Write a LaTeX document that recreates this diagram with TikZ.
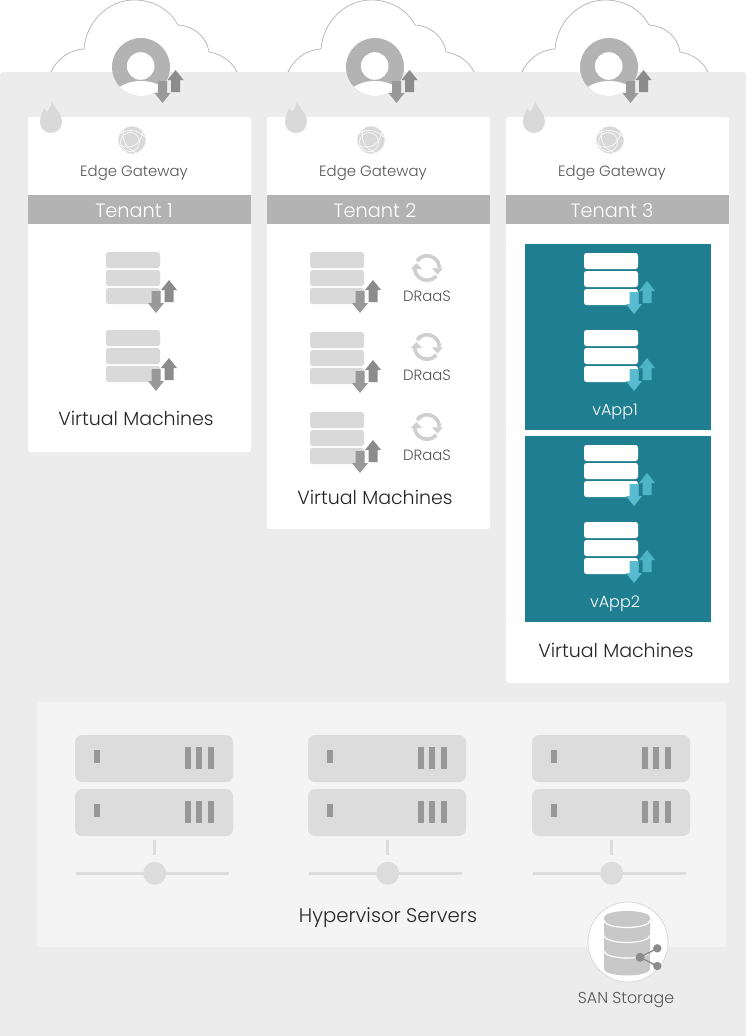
\documentclass[tikz,border=0pt]{standalone}
\usepackage{fontspec}
\setmainfont{Poppins Light}
\definecolor{panelgrey}{HTML}{ECECEC}
\definecolor{lowpanel}{HTML}{F4F4F4}
\definecolor{bannergrey}{HTML}{B3B3B3}
\definecolor{rowgrey}{HTML}{D9D9D9}
\definecolor{srvgrey}{HTML}{DCDCDC}
\definecolor{cylgrey}{HTML}{C8C8C8}
\definecolor{loopgrey}{HTML}{CFCFCF}
\definecolor{darkgrey}{HTML}{8C8C8C}
\definecolor{dngrey}{HTML}{999999}
\definecolor{teal}{HTML}{1F7F91}
\definecolor{upteal}{HTML}{4FB3C6}
\definecolor{dnteal}{HTML}{58BBCF}
\definecolor{txtgrey}{HTML}{555555}
\tikzset{
  card/.style={fill=white,rounded corners=2.5pt},
  labelsm/.style={text=txtgrey,font=\fontsize{14.9}{16}\selectfont,inner sep=0pt,anchor=center},
  labelsan/.style={text=txtgrey,font=\fontsize{15.8}{17}\selectfont,inner sep=0pt,anchor=center},
  labelbig/.style={text=black!85,font=\fontsize{19}{20}\selectfont,inner sep=0pt,anchor=center},
  labelhv/.style={text=black!85,font=\fontsize{19.7}{20}\selectfont,inner sep=0pt,anchor=center},
  bannertext/.style={text=white,font=\fontsize{19.3}{22}\selectfont,inner sep=0pt,anchor=center},
  vapptext/.style={text=white,font=\fontsize{16}{17}\selectfont,inner sep=0pt,anchor=center},
  rowbox/.style={rounded corners=2.5pt},
  srvbox/.style={fill=srvgrey,rounded corners=7pt},
  mark bar/.style={fill=darkgrey!90},
}
% arrow pair; origin = stack origin
\newcommand{\updown}[2]{%
  \fill[#1] (63,28) -- (71,38) -- (67.5,38) -- (67.5,50) -- (58.5,50) -- (58.5,38) -- (55,38) -- cycle;
  \fill[#2] (50,61) -- (58,51) -- (54.5,51) -- (54.5,39) -- (45.5,39) -- (45.5,51) -- (42,51) -- cycle;
}
\newcommand{\vmstack}[5]{%
  \begin{scope}[shift={(#1,#2)}]
    \fill[#3,rowbox] (0,0) rectangle (54,16);
    \fill[#3,rowbox] (0,18) rectangle (54,34);
    \fill[#3,rowbox] (0,36) rectangle (54,52);
    \updown{#4}{#5}
  \end{scope}}
\newcommand{\cloudshape}[1]{%
  \begin{scope}[shift={(#1,0)}]
    \draw[bannergrey,line width=0.7pt,fill=white]
      (50,74) .. controls (56,60) and (68,50) .. (84,49)
      .. controls (86,22) and (108,0) .. (134,0)
      .. controls (154,0) and (170,10) .. (178,25)
      .. controls (194,26) and (207,37) .. (209,52)
      .. controls (222,54) and (233,62) .. (238,74);
  \end{scope}}
\newcommand{\person}[1]{%
  \begin{scope}[shift={(#1,0)}]
    \fill[bannergrey] (141,67) circle (29);
    \begin{scope}
      \clip (141,67) circle (29);
      \fill[white] (141,101) ellipse (30 and 20);
    \end{scope}
    \fill[white] (140.7,66) circle (13.8);
    \begin{scope}[shift={(112.5,42)}]\updown{darkgrey}{dngrey}\end{scope}
  \end{scope}}
\newcommand{\flame}[1]{%
  \fill[rowgrey,shift={(#1,0)}] (51,133) .. controls (44.5,133) and (40,128) .. (40,122)
    .. controls (40,116) and (43,112) .. (44,108)
    .. controls (45.5,110) and (46.5,111) .. (47,112)
    .. controls (50,109) and (51.5,105) .. (52,101)
    .. controls (54,108) and (62,113) .. (62,122)
    .. controls (62,128) and (57,133) .. (51,133) -- cycle;}
\newcommand{\globe}[1]{%
  \begin{scope}[shift={(#1,140)}]
    \fill[rowgrey] (0,0) circle (14);
    \draw[white,line width=0.6pt] (0,0) circle (14);
    \draw[white,line width=0.6pt] (-2,2) circle (9.5);
    \draw[white,line width=0.6pt] (-12,-6) .. controls (-4,-12) and (6,-10) .. (13,-3);
    \draw[white,line width=0.6pt] (-8,-11) .. controls (-11,0) and (-6,9) .. (5,13);
    \draw[white,line width=0.6pt] (-13,5) .. controls (-2,10) and (8,6) .. (11,-8);
  \end{scope}}
\newcommand{\draas}[1]{%
  \begin{scope}[shift={(427,#1)}]
    \draw[loopgrey,line width=3.6pt] (215:12.3) arc (215:360:12.3);
    \draw[loopgrey,line width=3.6pt] (40:12.3) arc (40:180:12.3);
    \fill[loopgrey] (5,0.3) -- (16,0.3) -- (10.5,6.5) -- cycle;
    \fill[loopgrey] (-5,1) -- (-16,1) -- (-10.5,-5) -- cycle;
  \end{scope}}
\newcommand{\server}[1]{%
  \begin{scope}[shift={(#1,0)}]
    \foreach \dy in {0,54}{
      \fill[srvbox] (75,735+\dy) rectangle (233,782+\dy);
      \fill[mark bar] (94,750+\dy) rectangle (100,763+\dy);
      \foreach \bx in {184.5,196.3,208}{
        \fill[mark bar] (\bx,747+\dy) rectangle (\bx+6,769+\dy);}
    }
    \fill[srvgrey] (152.7,839.5) rectangle (155.7,855);
    \fill[srvgrey] (76,872) rectangle (229,875);
    \fill[srvgrey] (154.7,873.3) circle (11.5);
  \end{scope}}
\begin{document}
\begin{tikzpicture}[x=1pt,y=-1pt]
\useasboundingbox (0,0) rectangle (746,1036);
\fill[white] (0,0) rectangle (746,1036);
% clouds
\cloudshape{0}\cloudshape{237}\cloudshape{471}
% panel
\fill[panelgrey,rounded corners=3pt] (0,72) rectangle (746,1040);
\fill[lowpanel] (37,702) rectangle (726,947);
% cards
\fill[card] (28,117) rectangle (251,452);
\fill[card] (267,117) rectangle (490,529);
\fill[card] (506,117) rectangle (729,683);
% banners
\fill[bannergrey] (28,195) rectangle (251,224);
\fill[bannergrey] (267,195) rectangle (490,224);
\fill[bannergrey] (506,195) rectangle (729,224);
\node[bannertext] (t1) at (134,210.5) {Tenant 1};
\node[bannertext] (t2) at (375,210.5) {Tenant 2};
\node[bannertext] (t3) at (612,210.5) {Tenant 3};
% top icons
\person{0}\person{234}\person{468}
\flame{0}\flame{245}\flame{483}
\globe{132}\globe{371}\globe{610}
\node[labelsm] (eg1) at (134,172.5) {Edge Gateway};
\node[labelsm] (eg2) at (373,172.5) {Edge Gateway};
\node[labelsm] (eg3) at (612,172.5) {Edge Gateway};
% tenant 1
\vmstack{106}{252}{rowgrey}{darkgrey}{dngrey}
\vmstack{106}{330}{rowgrey}{darkgrey}{dngrey}
\node[labelbig] (vm1) at (136,418) {Virtual Machines};
% tenant 2
\vmstack{310}{252}{rowgrey}{darkgrey}{dngrey}
\vmstack{310}{332}{rowgrey}{darkgrey}{dngrey}
\vmstack{310}{412}{rowgrey}{darkgrey}{dngrey}
\draas{268}\draas{347}\draas{427}
\node[labelsm] (d1) at (427,296.5) {DRaaS};
\node[labelsm] (d2) at (427,375.5) {DRaaS};
\node[labelsm] (d3) at (427,455.5) {DRaaS};
\node[labelbig] (vm2) at (375,497) {Virtual Machines};
% tenant 3
\fill[teal] (525,244) rectangle (711,430);
\fill[teal] (525,436) rectangle (711,622);
\vmstack{584}{253}{white}{upteal}{dnteal}
\vmstack{584}{330}{white}{upteal}{dnteal}
\vmstack{584}{445}{white}{upteal}{dnteal}
\vmstack{584}{522}{white}{upteal}{dnteal}
\node[vapptext] (va1) at (615,412) {vApp1};
\node[vapptext] (va2) at (615,604) {vApp2};
\node[labelbig] (vm3) at (616,650) {Virtual Machines};
% servers
\server{0}\server{233}\server{457}
\node[labelhv] (hv) at (388,917.5) {Hypervisor Servers};
% SAN
\fill[white] (628,942) circle (40);
\draw[rowgrey,line width=0.8pt] (628,942) circle (40);
\fill[cylgrey] (604,917.5) arc[start angle=180,end angle=360,x radius=23,y radius=6.5]
  -- (650,969) arc[start angle=0,end angle=180,x radius=23,y radius=6.5] -- cycle;
\draw[white,line width=1.2pt] (604,920.5) arc[start angle=180,end angle=0,x radius=23,y radius=7];
\draw[white,line width=1.2pt] (604,935.5) arc[start angle=180,end angle=0,x radius=23,y radius=7];
\draw[white,line width=1.2pt] (604,951) arc[start angle=180,end angle=0,x radius=23,y radius=7];
\draw[darkgrey,line width=1.4pt] (657.3,948.3) -- (640,957.3) -- (657.3,966);
\fill[darkgrey] (640,957.3) circle (4.5);
\fill[darkgrey] (657.3,948.3) circle (4.2);
\fill[darkgrey] (657.3,966) circle (4.2);
\node[labelsan] (san) at (626,1000.5) {SAN Storage};
\end{tikzpicture}
\end{document}
